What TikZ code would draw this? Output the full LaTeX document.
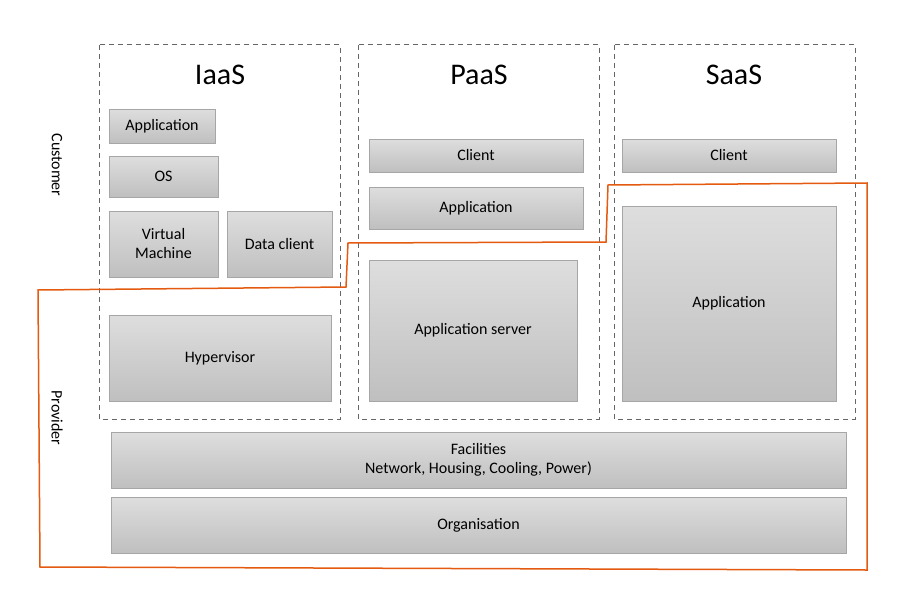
\documentclass[tikz,border=0pt]{standalone}
\usepackage{fontspec}
\setmainfont{Carlito}
\begin{document}
\begin{tikzpicture}[x=1pt,y=-1pt,
  layer/.style={draw=black!35,top color=black!13,bottom color=black!25,line width=0.8pt},
  col/.style={draw=black!60,dashed,line width=1pt,dash pattern=on 5pt off 4pt},
  lbl/.style={font=\fontsize{16}{19}\selectfont,align=center},
  ttl/.style={font=\fontsize{30}{34}\selectfont}]
\useasboundingbox (0,0) rectangle (920,602);
\draw[col] (99,45) rectangle (340,419);
\draw[col] (358,45) rectangle (599,419);
\draw[col] (614,45) rectangle (855,419);
\node[ttl] (ti) at (220,75) {IaaS};
\node[ttl] (tp) at (479,75) {PaaS};
\node[ttl] (ts) at (734,75) {SaaS};
\newcommand\lay[6]{\draw[layer] (#2,#3) rectangle (#4,#5); \node[lbl] (#1) at ({(#2+#4)/2},{(#3+#5)/2}) {#6};}
\lay{a1}{109}{109}{215}{143}{Application}
\lay{os}{109}{156}{218}{197}{OS}
\lay{vm}{109}{211}{218}{277}{Virtual\\Machine}
\lay{dc}{227}{211}{332}{277}{Data client}
\lay{hv}{109}{315}{331}{401}{Hypervisor}
\lay{pc}{369}{139}{583}{172}{Client}
\lay{pa}{369}{187}{583}{229}{Application}
\lay{ps}{369}{260}{577}{401}{Application server}
\lay{sc}{622}{139}{836}{172}{Client}
\lay{sa}{622}{206}{836}{401}{Application}
\lay{fa}{111}{432}{846}{488}{Facilities\\Network, Housing, Cooling, Power)}
\lay{or}{111}{497}{846}{553}{Organisation}
\node[lbl,rotate=-90] (cu) at (57,165) {Customer};
\node[lbl,rotate=-90] (pr) at (57,418) {Provider};
\draw[color={rgb,255:red,228;green,90;blue,16},line width=1.5pt] (38,290) -- (346,287) -- (348,243) -- (606,242) -- (608,185) -- (867,183) -- (867,570) -- (40,567) -- cycle;
\end{tikzpicture}
\end{document}
